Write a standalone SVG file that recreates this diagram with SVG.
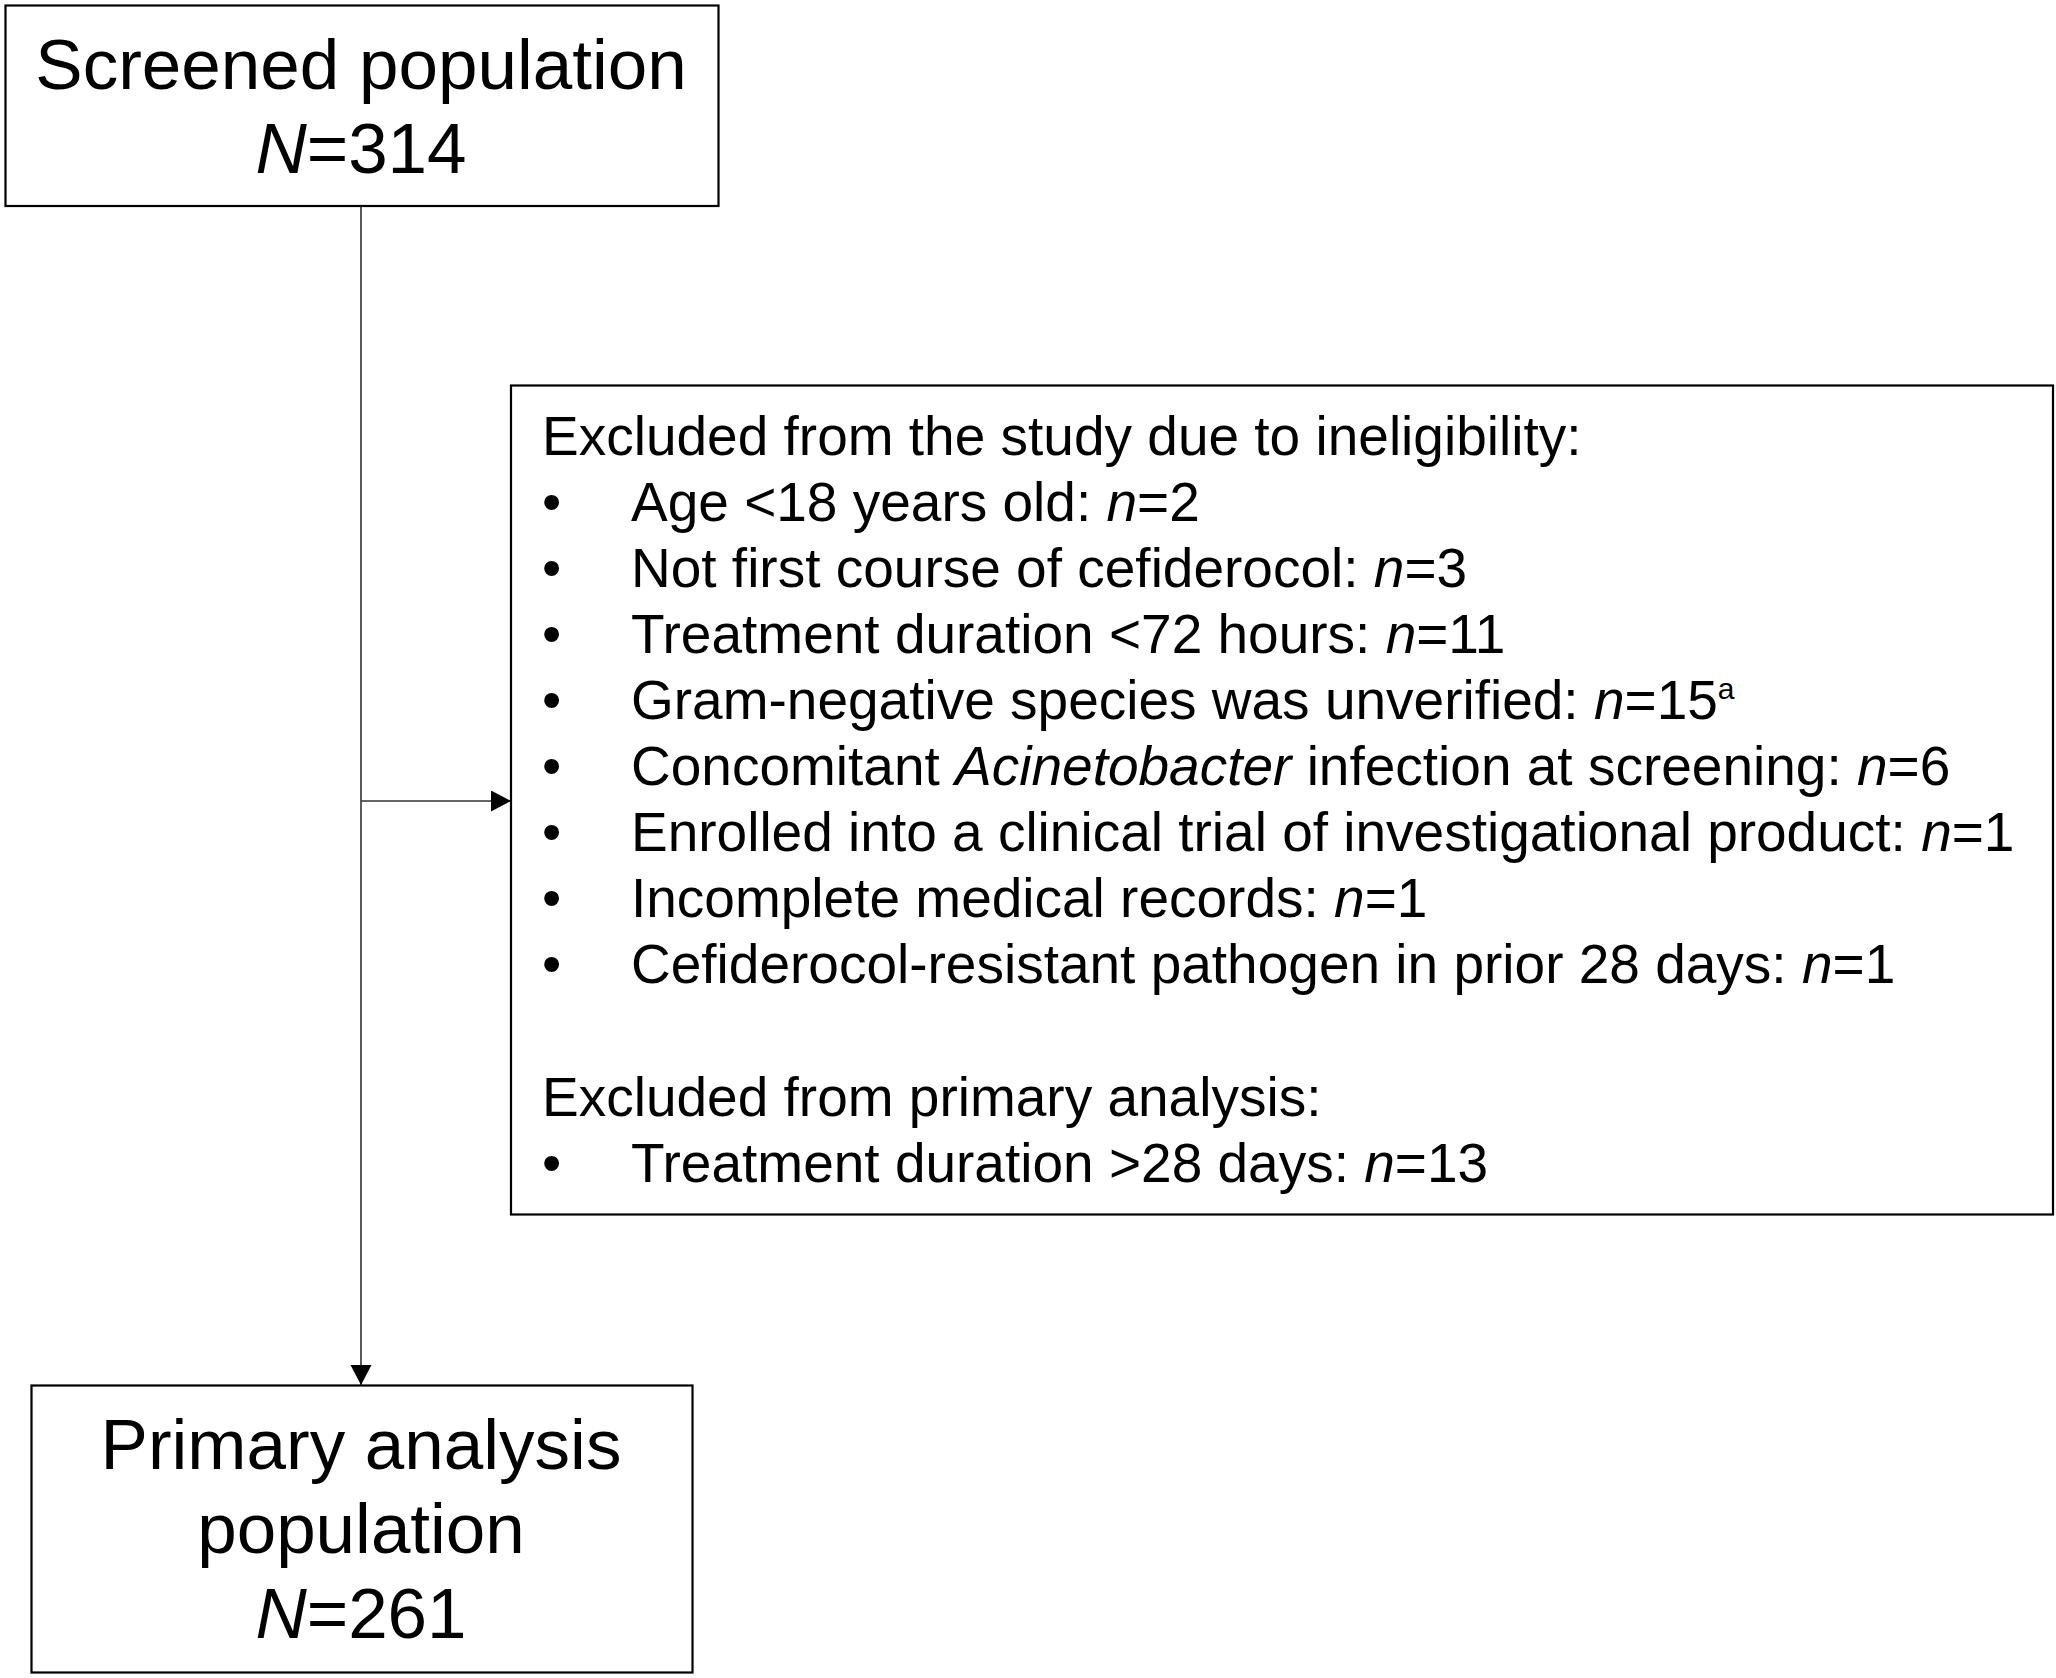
<svg xmlns="http://www.w3.org/2000/svg" width="2056" height="1678" viewBox="0 0 2056 1678">
<style>
.box{fill:#fff;stroke:#000;stroke-width:2.2}
.big{font-family:"Liberation Sans",Arial,sans-serif;font-size:71px;fill:#000;text-anchor:middle}
.t{font-family:"Liberation Sans",Arial,sans-serif;font-size:55px;fill:#000}
.i{font-style:italic}
.conn{fill:none;stroke:#333;stroke-width:1.6}
</style>
<defs>
<marker id="ah" markerUnits="userSpaceOnUse" markerWidth="21" markerHeight="22" refX="20" refY="10.5" orient="auto">
<path d="M0,0 L20,10.5 L0,21 z" fill="#000"/>
</marker>
</defs>
<rect width="2056" height="1678" fill="#fff"/>
<g id="connectors">
<path class="conn" d="M361,206 L361,1385" marker-end="url(#ah)"/>
<path class="conn" d="M361,801 L511,801" marker-end="url(#ah)"/>
</g>
<g id="screened">
<rect class="box" x="5.5" y="5.5" width="713" height="200.5"/>
<text class="big" x="361" y="89">Screened population</text>
<text class="big" x="361" y="173"><tspan class="i">N</tspan>=314</text>
</g>
<g id="excluded">
<rect class="box" x="511" y="385.5" width="1542" height="829"/>
<text class="t" x="542" y="455">Excluded from the study due to ineligibility:</text>
<g>
<text class="t" x="542" y="521">•</text><text class="t" x="631" y="521">Age &lt;18 years old: <tspan class="i">n</tspan>=2</text>
<text class="t" x="542" y="587">•</text><text class="t" x="631" y="587">Not first course of cefiderocol: <tspan class="i">n</tspan>=3</text>
<text class="t" x="542" y="653">•</text><text class="t" x="631" y="653">Treatment duration &lt;72 hours: <tspan class="i">n</tspan>=11</text>
<text class="t" x="542" y="719">•</text><text class="t" x="631" y="719">Gram-negative species was unverified: <tspan class="i">n</tspan>=15<tspan font-size="30" dy="-20">a</tspan></text>
<text class="t" x="542" y="785">•</text><text class="t" x="631" y="785">Concomitant <tspan class="i">Acinetobacter</tspan> infection at screening: <tspan class="i">n</tspan>=6</text>
<text class="t" x="542" y="851">•</text><text class="t" x="631" y="851">Enrolled into a clinical trial of investigational product: <tspan class="i">n</tspan>=1</text>
<text class="t" x="542" y="917">•</text><text class="t" x="631" y="917">Incomplete medical records: <tspan class="i">n</tspan>=1</text>
<text class="t" x="542" y="983">•</text><text class="t" x="631" y="983">Cefiderocol-resistant pathogen in prior 28 days: <tspan class="i">n</tspan>=1</text>
</g>
<text class="t" x="542" y="1116">Excluded from primary analysis:</text>
<text class="t" x="542" y="1182">•</text><text class="t" x="631" y="1182">Treatment duration &gt;28 days: <tspan class="i">n</tspan>=13</text>
</g>
<g id="primary">
<rect class="box" x="31.5" y="1385.5" width="661" height="287"/>
<text class="big" x="361" y="1469">Primary analysis</text>
<text class="big" x="361" y="1553">population</text>
<text class="big" x="361" y="1638"><tspan class="i">N</tspan>=261</text>
</g>
</svg>
